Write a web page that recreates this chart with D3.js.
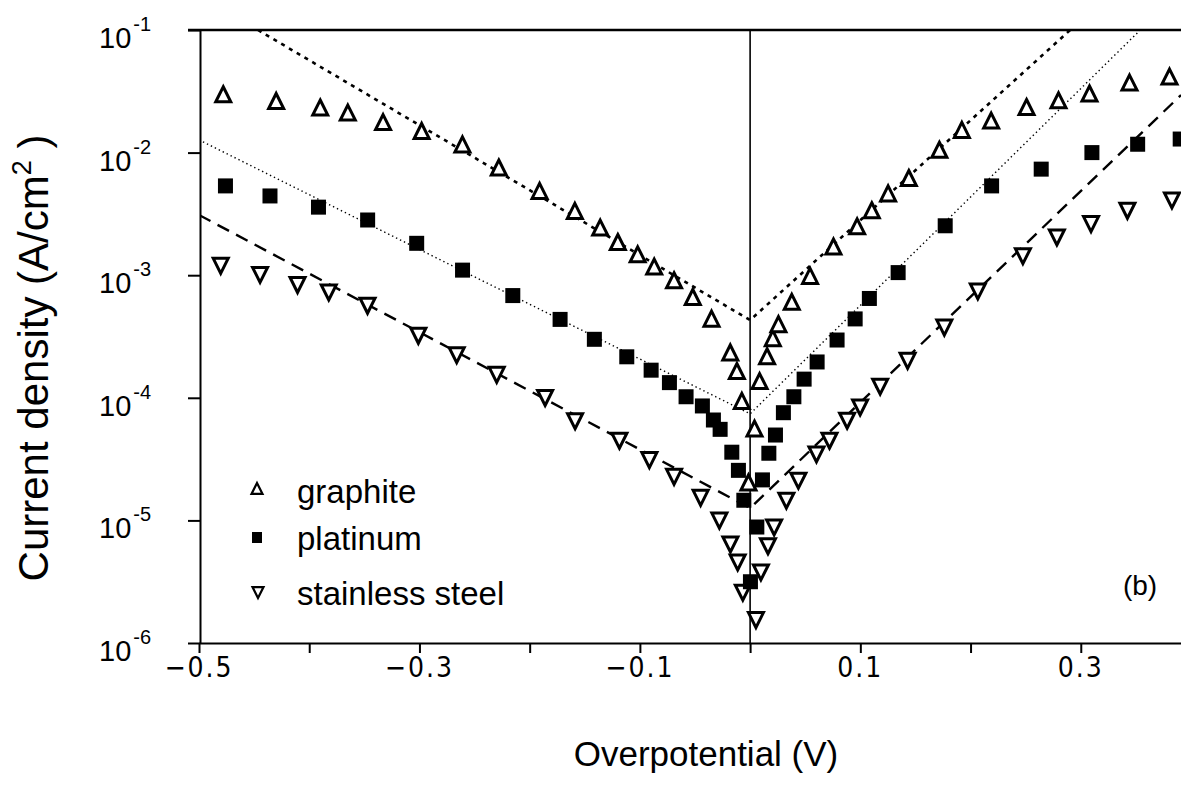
<!DOCTYPE html>
<html>
<head>
<meta charset="utf-8">
<script src="https://d3js.org/d3.v7.min.js"></script>
<style>
  body { margin: 0; background: #fff; }
  svg { display: block; }
  text { fill: #000; font-family: "Liberation Sans", Arial, sans-serif; }
  .axis path, .axis line { stroke: #000; stroke-width: 2; }
  .xlab { font-family: "Liberation Sans Narrow", "DejaVu Sans Condensed", sans-serif; font-size: 28px; letter-spacing: 2px; }
</style>
</head>
<body>
<div id="chart"></div>
<script>
// overpotential (V) and current density (A/cm2)
var graphiteX = [-0.478, -0.430, -0.390, -0.365, -0.333, -0.298, -0.261, -0.228, -0.191, -0.159, -0.136, -0.120, -0.102, -0.087, -0.069, -0.052, -0.035, -0.018, -0.012, -0.0075, -0.0015,
                 0.004, 0.0086, 0.0154, 0.0206, 0.0257, 0.0378, 0.0544, 0.0756, 0.0971, 0.1104, 0.1252, 0.144, 0.1717, 0.1921, 0.2187, 0.2508, 0.2798, 0.3079, 0.3442, 0.3805];
var graphiteY = [2.95e-2, 2.6e-2, 2.3e-2, 2.09e-2, 1.75e-2, 1.48e-2, 1.15e-2, 7.45e-3, 4.8e-3, 3.3e-3, 2.41e-3, 1.84e-3, 1.46e-3, 1.16e-3, 8.97e-4, 6.55e-4, 4.36e-4, 2.31e-4, 1.63e-4, 9.3e-5, 2.01e-5,
                 5.53e-5, 1.35e-4, 2.15e-4, 3.02e-4, 3.93e-4, 5.98e-4, 9.73e-4, 1.69e-3, 2.47e-3, 3.34e-3, 4.58e-3, 6.12e-3, 1.04e-2, 1.51e-2, 1.8e-2, 2.32e-2, 2.63e-2, 2.99e-2, 3.67e-2, 4.11e-2];

var platinumX = [-0.476, -0.4356, -0.3916, -0.347, -0.3025, -0.2609, -0.2153, -0.1724, -0.1413, -0.1119, -0.0898, -0.0732, -0.0581, -0.0433, -0.0333, -0.0272, -0.0166, -0.0106, -0.0057, 0.0003,
                 0.0061, 0.0112, 0.017, 0.023, 0.0302, 0.0397, 0.049, 0.0608, 0.0789, 0.0953, 0.1082, 0.1343, 0.177, 0.2191, 0.2641, 0.3101, 0.3516, 0.3902];
var platinumY = [5.35e-3, 4.43e-3, 3.59e-3, 2.82e-3, 1.82e-3, 1.1e-3, 6.82e-4, 4.36e-4, 3.0e-4, 2.16e-4, 1.68e-4, 1.33e-4, 1.02e-4, 8.58e-5, 6.59e-5, 5.53e-5, 3.6e-5, 2.56e-5, 1.46e-5, 3.16e-6,
                 8.83e-6, 2.14e-5, 3.53e-5, 4.97e-5, 7.56e-5, 1.02e-4, 1.42e-4, 1.96e-4, 2.96e-4, 4.4e-4, 6.46e-4, 1.05e-3, 2.53e-3, 5.35e-3, 7.33e-3, 1.0e-2, 1.17e-2, 1.29e-2];

var steelX = [-0.4803, -0.4446, -0.4106, -0.3823, -0.3471, -0.301, -0.2662, -0.2299, -0.186, -0.1588, -0.1186, -0.0914, -0.069, -0.0449, -0.0279, -0.0179, -0.0113, -0.0066,
              0.0053, 0.0098, 0.0162, 0.0218, 0.0329, 0.0438, 0.0602, 0.072, 0.088, 0.0998, 0.118, 0.1429, 0.1762, 0.2066, 0.2475, 0.2783, 0.3093, 0.3423, 0.3827];
var steelY = [1.21e-3, 1.02e-3, 8.43e-4, 7.33e-4, 5.71e-4, 3.25e-4, 2.26e-4, 1.56e-4, 1.01e-4, 6.53e-5, 4.53e-5, 3.15e-5, 2.3e-5, 1.55e-5, 1.01e-5, 6.45e-6, 4.6e-6, 2.61e-6,
              1.56e-6, 3.82e-6, 6.24e-6, 8.89e-6, 1.47e-5, 2.14e-5, 3.5e-5, 4.53e-5, 6.59e-5, 8.45e-5, 1.25e-4, 2.03e-4, 3.79e-4, 7.48e-4, 1.45e-3, 2.06e-3, 2.65e-3, 3.4e-3, 4.13e-3];

// Tafel fit lines: [x, y] end points of each branch
var graphiteFit = [[-0.4465, 0.1], [0, 4.3e-4], [0.2904, 0.1]];
var platinumFit = [[-0.5, 1.27e-2], [0, 7.4e-5], [0.354, 0.1]];
var steelFit = [[-0.5, 3.1e-3], [0, 1.26e-5], [0.391, 2.95e-2]];

var legendNames = ["graphite", "platinum", "stainless steel"];
var xTicks = [-0.5, -0.4, -0.3, -0.2, -0.1, 0, 0.1, 0.2, 0.3, 0.4];
var xLabels = [-0.5, -0.3, -0.1, 0.1, 0.3];
var yDecades = [-1, -2, -3, -4, -5, -6];

var W = 1181, H = 793;

var svg = d3.select("#chart").append("svg")
    .attr("width", W)
    .attr("height", H);

svg.append("rect").attr("width", W).attr("height", H).attr("fill", "#fff");

var x = d3.scaleLinear().domain([-0.5, 0.4]).range([199, 1191]);
var y = d3.scaleLog().domain([1e-6, 1e-1]).range([643, 30]);

// y axis, ticks out to the left
svg.append("g")
    .attr("class", "axis")
    .attr("transform", "translate(200,0)")
    .call(d3.axisLeft(y).ticks(5).tickSize(12).tickSizeOuter(0).tickFormat(""));

// x axis
svg.append("g")
    .attr("class", "axis")
    .attr("transform", "translate(0,643)")
    .call(d3.axisBottom(x).tickValues(xTicks).tickSize(10).tickSizeOuter(0).tickFormat(""));

// top frame line and zero line
svg.append("line")
    .attr("x1", 188).attr("x2", W)
    .attr("y1", y(0.1)).attr("y2", y(0.1))
    .attr("stroke", "#000").attr("stroke-width", 2.5);
svg.append("line")
    .attr("x1", x(0)).attr("x2", x(0))
    .attr("y1", y(0.1)).attr("y2", y(1e-6))
    .attr("stroke", "#000").attr("stroke-width", 1.6);

// x tick labels
svg.selectAll(".xlab")
    .data(xLabels)
  .enter().append("text")
    .attr("class", "xlab")
    .attr("x", function(d) { return x(d); })
    .attr("y", 677)
    .attr("text-anchor", "middle")
    .text(function(d) { return (d < 0 ? "\u2212" : "") + Math.abs(d).toFixed(1); });

// y tick labels 10^n
var ylab = svg.selectAll(".ylab")
    .data(yDecades)
  .enter().append("text")
    .attr("class", "ylab")
    .attr("x", 99)
    .attr("y", function(d) { return y(Math.pow(10, d)) + 18; })
    .style("font-size", "29px");
ylab.append("tspan").text("10");
ylab.append("tspan")
    .attr("dx", 2)
    .attr("dy", -17)
    .style("font-size", "20px")
    .text(function(d) { return String(d); });

// fit lines
var line = d3.line()
    .x(function(d) { return x(d[0]); })
    .y(function(d) { return y(d[1]); });

var plot = svg.append("g");
plot.append("clipPath").attr("id", "clip")
  .append("rect").attr("x", 200).attr("y", 30).attr("width", 1000).attr("height", 613);

plot.append("path")
    .datum(graphiteFit)
    .attr("clip-path", "url(#clip)")
    .attr("d", line)
    .attr("fill", "none").attr("stroke", "#000")
    .attr("stroke-width", 2.6).attr("stroke-dasharray", "4,5");
plot.append("path")
    .datum(platinumFit)
    .attr("clip-path", "url(#clip)")
    .attr("d", line)
    .attr("fill", "none").attr("stroke", "#000")
    .attr("stroke-width", 1.4).attr("stroke-dasharray", "1.4,3");
plot.append("path")
    .datum(steelFit)
    .attr("clip-path", "url(#clip)")
    .attr("d", line)
    .attr("fill", "none").attr("stroke", "#000")
    .attr("stroke-width", 2.4).attr("stroke-dasharray", "13,8");

function triUp(cx, cy, s) {
  return "M" + cx + "," + (cy - s * 0.55) + "L" + (cx + s / 2) + "," + (cy + s * 0.45) + "L" + (cx - s / 2) + "," + (cy + s * 0.45) + "Z";
}
function triDown(cx, cy, s) {
  return "M" + cx + "," + (cy + s * 0.55) + "L" + (cx + s / 2) + "," + (cy - s * 0.45) + "L" + (cx - s / 2) + "," + (cy - s * 0.45) + "Z";
}

// markers
plot.selectAll(".graphite")
    .data(graphiteX)
  .enter().append("path")
    .attr("class", "graphite")
    .attr("d", function(d, i) { return triUp(x(d), y(graphiteY[i]), 15); })
    .attr("fill", "#fff").attr("stroke", "#000").attr("stroke-width", 3);

plot.selectAll(".steel")
    .data(steelX)
  .enter().append("path")
    .attr("class", "steel")
    .attr("d", function(d, i) { return triDown(x(d), y(steelY[i]), 15); })
    .attr("fill", "#fff").attr("stroke", "#000").attr("stroke-width", 3);

plot.selectAll(".platinum")
    .data(platinumX)
  .enter().append("rect")
    .attr("class", "platinum")
    .attr("x", function(d) { return x(d) - 7.5; })
    .attr("y", function(d, i) { return y(platinumY[i]) - 7.5; })
    .attr("width", 15).attr("height", 15)
    .attr("fill", "#000");

// legend
var leg = svg.append("g");
var legY = [503, 550, 605];
leg.append("path").attr("d", triUp(257, 489, 11)).attr("fill", "#fff").attr("stroke", "#000").attr("stroke-width", 2.2);
leg.append("rect").attr("x", 252).attr("y", 532).attr("width", 10).attr("height", 11).attr("fill", "#000");
leg.append("path").attr("d", triDown(258, 592, 11)).attr("fill", "#fff").attr("stroke", "#000").attr("stroke-width", 2.2);
leg.selectAll("text")
    .data(legendNames)
  .enter().append("text")
    .attr("x", 297)
    .attr("y", function(d, i) { return legY[i]; })
    .style("font-size", "33px")
    .text(function(d) { return d; });

svg.append("text")
    .attr("x", 1140).attr("y", 595)
    .attr("text-anchor", "middle")
    .style("font-size", "28px")
    .text("(b)");

// axis titles
svg.append("text")
    .attr("x", 706).attr("y", 766)
    .attr("text-anchor", "middle")
    .style("font-size", "35px")
    .text("Overpotential (V)");

var yt = svg.append("text")
    .attr("transform", "translate(48,358) rotate(-90)")
    .attr("text-anchor", "middle")
    .style("font-size", "42px");
yt.append("tspan").text("Current density (A/cm");
yt.append("tspan").attr("dy", -17).style("font-size", "27px").text("2");
yt.append("tspan").attr("dy", 17).text(" )");
</script>
</body>
</html>
